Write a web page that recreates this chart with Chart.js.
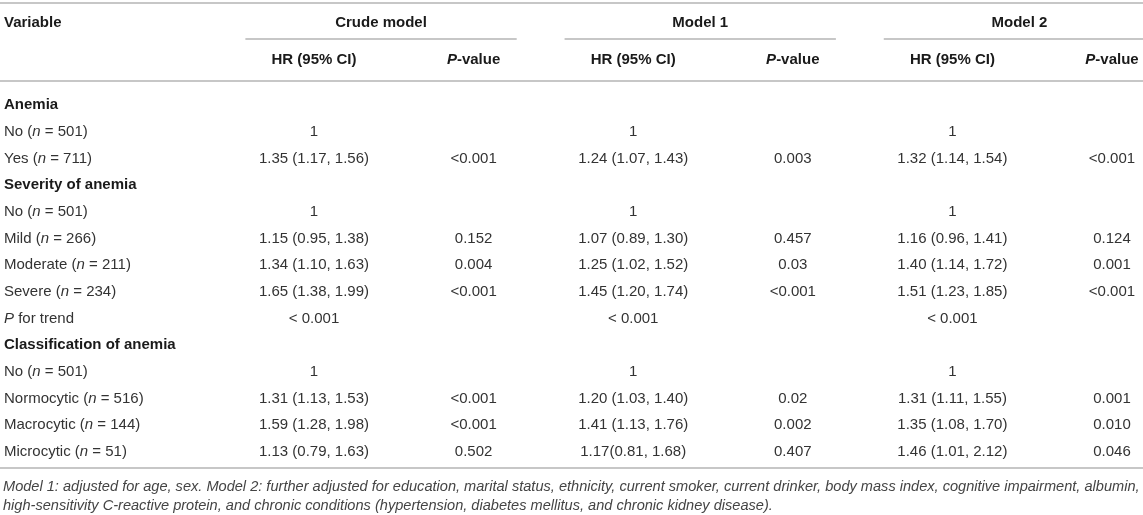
<!DOCTYPE html>
<html lang="en">
<head>
  <meta charset="UTF-8" />
  <title>HR for anemia</title>
  <script src="https://cdn.jsdelivr.net/npm/chart.js"></script>
  <style>
    html, body { margin: 0; padding: 0; background: #fff; }
    #wrap { width: 1143px; height: 515px; position: relative; }
  </style>
</head>
<body>
  <div id="wrap"><canvas id="tableChart"></canvas></div>

  <script>
    // *text* = italic part
    const rowLabels = [
      'Anemia', 'No (*n* = 501)', 'Yes (*n* = 711)',
      'Severity of anemia', 'No (*n* = 501)', 'Mild (*n* = 266)', 'Moderate (*n* = 211)', 'Severe (*n* = 234)', '*P* for trend',
      'Classification of anemia', 'No (*n* = 501)', 'Normocytic (*n* = 516)', 'Macrocytic (*n* = 144)', 'Microcytic (*n* = 51)'
    ];
    const sectionRows = [0, 3, 9];

    const groupHeaders = ['Crude model', 'Model 1', 'Model 2'];
    const subHeaders = ['HR (95% CI)', '*P*-value'];

    const crudeHR = ['', '1', '1.35 (1.17, 1.56)', '', '1', '1.15 (0.95, 1.38)', '1.34 (1.10, 1.63)', '1.65 (1.38, 1.99)', '< 0.001', '', '1', '1.31 (1.13, 1.53)', '1.59 (1.28, 1.98)', '1.13 (0.79, 1.63)'];
    const crudeP = ['', '', '<0.001', '', '', '0.152', '0.004', '<0.001', '', '', '', '<0.001', '<0.001', '0.502'];
    const model1HR = ['', '1', '1.24 (1.07, 1.43)', '', '1', '1.07 (0.89, 1.30)', '1.25 (1.02, 1.52)', '1.45 (1.20, 1.74)', '< 0.001', '', '1', '1.20 (1.03, 1.40)', '1.41 (1.13, 1.76)', '1.17(0.81, 1.68)'];
    const model1P = ['', '', '0.003', '', '', '0.457', '0.03', '<0.001', '', '', '', '0.02', '0.002', '0.407'];
    const model2HR = ['', '1', '1.32 (1.14, 1.54)', '', '1', '1.16 (0.96, 1.41)', '1.40 (1.14, 1.72)', '1.51 (1.23, 1.85)', '< 0.001', '', '1', '1.31 (1.11, 1.55)', '1.35 (1.08, 1.70)', '1.46 (1.01, 2.12)'];
    const model2P = ['', '', '<0.001', '', '', '0.124', '0.001', '<0.001', '', '', '', '0.001', '0.010', '0.046'];

    const footnotes = [
      'Model 1: adjusted for age, sex. Model 2: further adjusted for education, marital status, ethnicity, current smoker, current drinker, body mass index, cognitive impairment, albumin,',
      'high-sensitivity C-reactive protein, and chronic conditions (hypertension, diabetes mellitus, and chronic kidney disease).'
    ];

    const columns = [crudeHR, crudeP, model1HR, model1P, model2HR, model2P];

    const FAMILY = '"Liberation Sans", Arial, Helvetica, sans-serif';
    const SIZE = 15;

    function drawRich(ctx, text, x, y, align, bold, color) {
      const parts = text.split('*');
      const fontFor = i => (i % 2 ? 'italic ' : '') + (bold ? 'bold ' : '') + SIZE + 'px ' + FAMILY;
      let total = 0;
      parts.forEach((p, i) => { ctx.font = fontFor(i); total += ctx.measureText(p).width; });
      let cx = align === 'center' ? x - total / 2 : x;
      ctx.fillStyle = color;
      ctx.textAlign = 'left';
      ctx.textBaseline = 'middle';
      parts.forEach((p, i) => {
        ctx.font = fontFor(i);
        ctx.fillText(p, cx, y);
        cx += ctx.measureText(p).width;
      });
    }

    function hline(ctx, x1, x2, y) {
      ctx.beginPath();
      ctx.moveTo(x1, y);
      ctx.lineTo(x2, y);
      ctx.stroke();
    }

    const tablePlugin = {
      id: 'tableCells',
      afterDatasetsDraw(chart) {
        const ctx = chart.ctx;
        const area = chart.chartArea;
        const xs = chart.scales.x;
        const ys = chart.scales.y;
        const W = chart.width;
        ctx.save();

        // rules
        ctx.strokeStyle = '#b4b4b4';
        ctx.lineWidth = 1.6;
        hline(ctx, 0, W, 3);
        hline(ctx, 0, W, area.top - 10);
        hline(ctx, 0, W, area.bottom + 4);
        const step = xs.getPixelForValue(1) - xs.getPixelForValue(0);
        groupHeaders.forEach((g, k) => {
          const l = xs.getPixelForValue(2 * k) - 0.43 * step;
          const r = Math.min(W, xs.getPixelForValue(2 * k + 1) + 0.27 * step);
          hline(ctx, l, r, area.top - 52);
          drawRich(ctx, g, (l + xs.getPixelForValue(2 * k + 1) + 0.27 * step) / 2, area.top - 68, 'center', true, '#1a1a1a');
          subHeaders.forEach((s, j) => {
            drawRich(ctx, s, xs.getPixelForValue(2 * k + j), area.top - 31, 'center', true, '#1a1a1a');
          });
        });
        drawRich(ctx, 'Variable', 4, area.top - 68, 'left', true, '#1a1a1a');

        // row labels
        rowLabels.forEach((lab, i) => {
          const bold = sectionRows.includes(i);
          drawRich(ctx, lab, 4, ys.getPixelForValue(i) + 1, 'left', bold, bold ? '#1a1a1a' : '#333');
        });

        // cells
        chart.data.datasets.forEach((ds, di) => {
          chart.getDatasetMeta(di).data.forEach((pt, i) => {
            const txt = columns[di][i];
            if (txt) drawRich(ctx, txt, pt.x, pt.y + 1, 'center', false, '#333');
          });
        });

        // footnotes
        ctx.font = 'italic 14px ' + FAMILY;
        const fit = 14 * (W - 6) / ctx.measureText(footnotes[0]).width;
        ctx.font = 'italic ' + fit.toFixed(2) + 'px ' + FAMILY;
        ctx.fillStyle = '#444';
        ctx.textAlign = 'left';
        ctx.textBaseline = 'middle';
        footnotes.forEach((f, i) => ctx.fillText(f, 3, area.bottom + 23 + i * 19));
        ctx.restore();
      }
    };

    const ctx = document.getElementById('tableChart').getContext('2d');
    const chart = new Chart(ctx, {
      type: 'scatter',
      data: {
        datasets: columns.map((col, c) => ({
          label: c % 2 ? 'P-value' : 'HR (95% CI)',
          data: col.map((v, r) => ({ x: c, y: r })),
          pointRadius: 0,
          pointHoverRadius: 0
        }))
      },
      options: {
        responsive: true,
        maintainAspectRatio: false,
        animation: false,
        events: [],
        layout: { padding: { left: 314, right: 31, top: 91, bottom: 51 } },
        plugins: { legend: { display: false }, tooltip: { enabled: false } },
        scales: {
          x: { type: 'linear', min: 0, max: 5, display: false },
          y: { type: 'linear', min: -0.5, max: rowLabels.length - 0.5, reverse: true, display: false }
        }
      },
      plugins: [tablePlugin]
    });
  </script>
</body>
</html>
